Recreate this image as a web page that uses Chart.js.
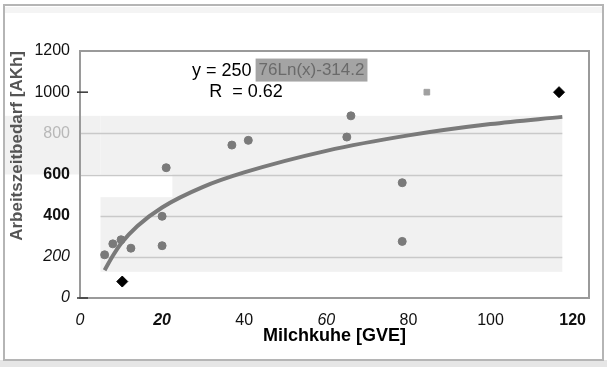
<!DOCTYPE html>
<html>
<head>
<meta charset="utf-8">
<script src="https://cdn.jsdelivr.net/npm/chart.js@4"></script>
<style>
  html, body { margin: 0; padding: 0; background: #fff; }
  #wrap { width: 607px; height: 367px; }
</style>
</head>
<body>
<div id="wrap"><canvas id="chart" width="607" height="367"></canvas></div>
<script>
// Milchkuhe [GVE] vs Arbeitszeitbedarf [AKh]
const farmX = [6, 8, 10, 12.4, 20, 20, 21, 37, 41, 65, 66, 78.5, 78.5];
const farmY = [210, 263, 283, 242, 254, 397, 633, 743, 766, 782, 885, 560, 275];

// black diamonds
const extraX = [10.3, 116.7];
const extraY = [80, 1000];

// light grey marker
const greyX = [84.5];
const greyY = [1000];

// logarithmic trend line
const trendX = [6, 8, 10, 14, 20, 30, 40, 60, 80, 100, 117.5];
const trendY = [135, 205, 265, 350, 440, 540, 610, 715, 790, 845, 880];

const xTicks = [0, 20, 40, 60, 80, 100, 120];
const yTicks = [0, 200, 400, 600, 800, 1000, 1200];
const gridValues = [200, 400, 600, 800];

const eqLeft = "y = 250";
const eqRight = "76Ln(x)-314.2";
const rText = "R  = 0.62";

// the scan mixes styles on the tick labels
const xTickFonts = ["italic", "bold italic", "normal", "italic", "normal", "normal", "bold"];
const yTickFonts = ["italic", "italic", "bold", "bold", "normal", "normal", "normal"];

const FONT = "Arial, 'Liberation Sans', sans-serif";
const toPts = (xs, ys) => xs.map((x, i) => ({ x: x, y: ys[i] }));

const decor = {
  id: "decor",
  beforeDraw(chart) {
    const { ctx, chartArea: a, scales: { x, y } } = chart;
    ctx.save();
    // outer frame of the scanned figure
    ctx.fillStyle = "#e6e6e6";
    ctx.fillRect(0, 360, 607, 7);
    ctx.strokeStyle = "#b5b5b5";
    ctx.lineWidth = 2;
    ctx.strokeRect(4, 5, 599, 355);
    ctx.fillStyle = "#f4f4f4";
    ctx.fillRect(5, 7, 597, 6);

    // grey band behind the points (drawn before axes so labels sit on top)
    ctx.fillStyle = "#f1f1f1";
    const bx0 = x.getPixelForValue(5), bx1 = x.getPixelForValue(117.5);
    const yTop = y.getPixelForValue(885), y600 = y.getPixelForValue(600);
    ctx.fillRect(bx0, yTop, bx1 - bx0, y.getPixelForValue(127) - yTop);
    ctx.fillRect(5, yTop, bx0 - 5, y600 - yTop);
    ctx.fillStyle = "#ffffff";
    ctx.fillRect(a.left, y600, x.getPixelForValue(22.5) - a.left, y.getPixelForValue(490) - y600);

    // grid lines only inside the band
    ctx.strokeStyle = "#c9c9c9";
    ctx.lineWidth = 1.5;
    gridValues.forEach(v => {
      const py = Math.round(y.getPixelForValue(v)) + 0.5;
      ctx.beginPath();
      ctx.moveTo(v >= 600 ? a.left : bx0, py);
      ctx.lineTo(bx1, py);
      ctx.stroke();
    });
    ctx.restore();
  },
  afterDatasetsDraw(chart) {
    const { ctx, chartArea: a, scales: { x, y } } = chart;
    ctx.save();
    // plot frame
    ctx.strokeStyle = "#9a9a9a";
    ctx.lineWidth = 2;
    ctx.strokeRect(a.left, a.top, a.right - a.left, a.bottom - a.top);
    // small tick dashes seen at 1000 and 0
    ctx.strokeStyle = "#333";
    ctx.lineWidth = 1.5;
    [1000, 0].forEach(v => {
      const py = y.getPixelForValue(v);
      ctx.beginPath();
      ctx.moveTo(a.left - 3, py);
      ctx.lineTo(a.left + 8, py);
      ctx.stroke();
    });

    // equation label
    ctx.font = "18px " + FONT;
    ctx.textBaseline = "middle";
    const ex = x.getPixelForValue(27.3);
    const ey = y.getPixelForValue(1105);
    ctx.fillStyle = "#000";
    ctx.fillText(eqLeft, ex, ey);
    const w = ctx.measureText(eqLeft).width;
    const bx = ex + w + 4;
    ctx.font = "17px " + FONT;
    const w2 = ctx.measureText(eqRight).width;
    ctx.fillStyle = "#a4a4a4";
    ctx.fillRect(bx, ey - 12, w2 + 6, 23);
    ctx.fillStyle = "#6a6a6a";
    ctx.fillText(eqRight, bx + 3, ey);
    ctx.font = "18px " + FONT;
    ctx.fillStyle = "#000";
    ctx.fillText(rText, x.getPixelForValue(31.5), y.getPixelForValue(1003));
    ctx.restore();
  }
};

new Chart(document.getElementById("chart"), {
  type: "scatter",
  data: {
    datasets: [
      {
        label: "Trend",
        type: "line",
        data: toPts(trendX, trendY),
        borderColor: "#7a7a7a",
        borderWidth: 4,
        pointRadius: 0,
        cubicInterpolationMode: "monotone",
        fill: false,
        order: 2
      },
      {
        label: "Betriebe",
        data: toPts(farmX, farmY),
        backgroundColor: "#7a7a7a",
        borderColor: "#7a7a7a",
        pointRadius: 4,
        order: 1
      },
      {
        label: "Extrem",
        data: toPts(extraX, extraY),
        backgroundColor: "#000",
        borderColor: "#000",
        pointStyle: "rectRot",
        pointRadius: 5.5,
        order: 0
      },
      {
        label: "Grau",
        data: toPts(greyX, greyY),
        backgroundColor: "#a0a0a0",
        borderColor: "#a0a0a0",
        pointStyle: "rect",
        pointRadius: 4,
        order: 0
      }
    ]
  },
  options: {
    responsive: false,
    animation: false,
    layout: { padding: { left: 0, top: 51, right: 18, bottom: 0 } },
    plugins: { legend: { display: false }, tooltip: { enabled: false } },
    scales: {
      x: {
        type: "linear",
        min: 0,
        max: 124,
        afterBuildTicks: s => { s.ticks = xTicks.map(v => ({ value: v })); },
        afterFit: s => { s.height = 69; },
        grid: { display: false, drawTicks: false },
        border: { display: false },
        ticks: {
          padding: 13,
          color: "#111",
          callback: v => String(v),
          font: c => ({ family: FONT, size: 16,
            style: /italic/.test(xTickFonts[c.index]) ? "italic" : "normal",
            weight: /bold/.test(xTickFonts[c.index]) ? "bold" : "normal" })
        },
        title: {
          display: true,
          text: "Milchkuhe [GVE]",
          color: "#000",
          font: { family: FONT, size: 18, weight: "bold" },
          padding: { top: 0, bottom: 20 }
        }
      },
      y: {
        min: 0,
        max: 1200,
        afterBuildTicks: s => { s.ticks = yTicks.map(v => ({ value: v })); },
        afterFit: s => { s.width = 80; },
        grid: { display: false, drawTicks: false },
        border: { display: false },
        ticks: {
          padding: 10,
          callback: v => String(v),
          color: c => (c.tick && c.tick.value === 800 ? "#b8b8b8" : "#111"),
          font: c => ({ family: FONT, size: 16,
            style: /italic/.test(yTickFonts[c.index]) ? "italic" : "normal",
            weight: /bold/.test(yTickFonts[c.index]) ? "bold" : "normal" })
        },
        title: {
          display: true,
          text: "Arbeitszeitbedarf [AKh]",
          align: "end",
          color: "#555",
          font: { family: FONT, size: 17, weight: "bold" },
          padding: { top: 7, bottom: 0 }
        }
      }
    }
  },
  plugins: [decor]
});
</script>
</body>
</html>
